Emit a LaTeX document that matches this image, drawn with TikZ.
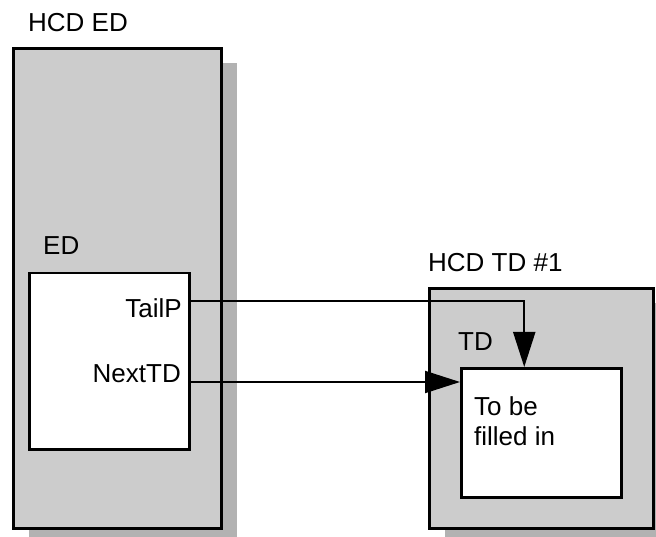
\documentclass[tikz,border=0pt]{standalone}
\usepackage{fontspec}
\setmainfont{Liberation Sans}
\usetikzlibrary{arrows.meta,shadows,calc}
\definecolor{boxgray}{RGB}{204,204,204}
\definecolor{shadowgray}{RGB}{178,178,178}
\begin{document}
\begin{tikzpicture}[x=1pt,y=-1pt,
  outerbox/.style={draw, line width=2.7pt, fill=boxgray, anchor=north west, inner sep=0pt,
    drop shadow={shadow xshift=16pt, shadow yshift=-15pt, opacity=1, fill=shadowgray}},
  innerbox/.style={draw, line width=2.5pt, fill=white, anchor=north west, inner sep=0pt},
  lbl/.style={inner sep=0pt, font=\fontsize{26}{31}\selectfont},
  arr/.style={line width=2pt, -{Triangle[length=35pt,width=22pt]}}]
\useasboundingbox (0,0) rectangle (656,537);
\clip (0,0) rectangle (656,537);
% boxes
\node[outerbox, minimum width=208pt, minimum height=480pt] (hcded) at (12,47) {};
\node[innerbox, minimum width=160pt, minimum height=176pt] (ed) at (28,272) {};
\node[outerbox, minimum width=224pt, minimum height=240pt] (hcdtd) at (428,287) {};
\node[innerbox, minimum width=160pt, minimum height=129pt] (td) at (460,367) {};
% labels
\node[lbl, anchor=base west] (hcdedlbl) at (28,32) {HCD ED};
\node[lbl, anchor=base west] (edlbl) at (43,255) {ED};
\node[lbl, anchor=base east] (tailp) at (182,318) {TailP};
\node[lbl, anchor=base east] (nexttd) at (181,382) {NextTD};
\node[lbl, anchor=base west] (hcdtdlbl) at (428,272) {HCD TD \#1};
\node[lbl, anchor=base west] (tdlbl) at (458,350) {TD};
\node[lbl, anchor=base west] (tobe1) at (474,415) {To be};
\node[lbl, anchor=base west] (tobe2) at (474,445) {filled in};
% connectors
\draw[arr] ([yshift=-2pt]tailp.north -| ed.east) -| ([xshift=-17pt]td.north);
\draw[arr] (nexttd.base -| ed.east) -- (nexttd.base -| td.west);
\end{tikzpicture}
\end{document}
